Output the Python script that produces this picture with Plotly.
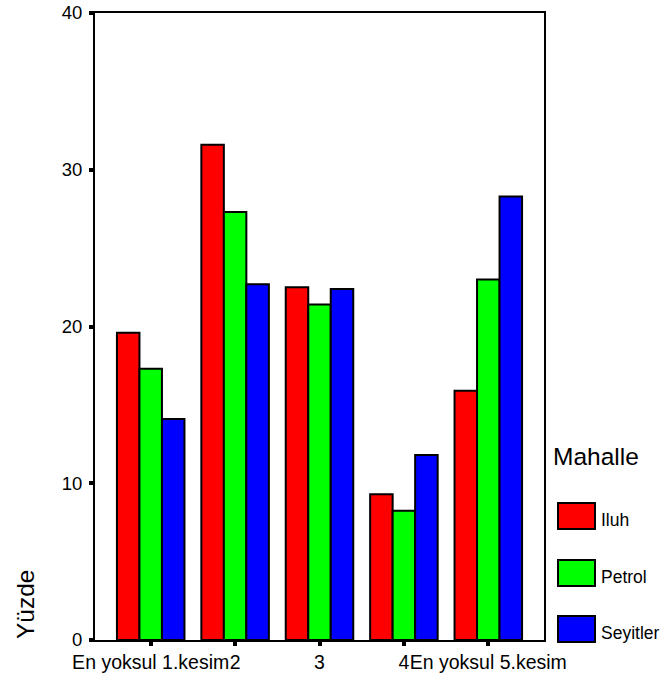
import plotly.graph_objects as go

categories = ["En yoksul 1.kesim", "2", "3", "4", "En yoksul 5.kesim"]
series_names = ["Iluh", "Petrol", "Seyitler"]
iluh = [19.6, 31.6, 22.5, 9.3, 15.9]
petrol = [17.3, 27.3, 21.4, 8.25, 23.0]
seyitler = [14.1, 22.7, 22.4, 11.8, 28.3]
series_values = [iluh, petrol, seyitler]
colors = ["#ff0000", "#00ff00", "#0000ff"]
y_ticks = [0, 10, 20, 30, 40]
legend_title = "Mahalle"
y_title = "Yüzde"

W, H = 668, 677
L, R, T, B = 95, 544, 13, 640
FONT = "Liberation Sans, Arial, sans-serif"

fig = go.Figure()
for name, vals, col in zip(series_names, series_values, colors):
    fig.add_trace(go.Bar(
        x=categories, y=vals, name=name,
        marker=dict(color=col, line=dict(color="black", width=2)),
        showlegend=False,
    ))

def px_x(px):
    return (px - L) / (R - L)

def px_y(py):
    return (B - py) / (B - T)

shapes = []
annotations = []
# custom legend
sw_x0, sw_x1 = 558, 595
sw_tops = [503, 560, 616]
sw_h = 26
for name, col, top in zip(series_names, colors, sw_tops):
    shapes.append(dict(type="rect", xref="paper", yref="paper",
                       x0=px_x(sw_x0), x1=px_x(sw_x1),
                       y0=px_y(top + sw_h), y1=px_y(top),
                       fillcolor=col, line=dict(color="black", width=2)))
    annotations.append(dict(text=name, xref="paper", yref="paper",
                            x=px_x(599), y=px_y(top + sw_h / 2 + 4),
                            xanchor="left", yanchor="middle", showarrow=False,
                            font=dict(family=FONT, size=17.5, color="black")))
annotations.append(dict(text=legend_title, xref="paper", yref="paper",
                        x=px_x(551), y=px_y(457), xanchor="left", yanchor="middle",
                        showarrow=False,
                        font=dict(family=FONT, size=24.5, color="black")))
annotations.append(dict(text=y_title, xref="paper", yref="paper",
                        x=px_x(25), y=px_y(605), xanchor="center", yanchor="middle",
                        textangle=-90, showarrow=False,
                        font=dict(family=FONT, size=24.5, color="black")))

fig.update_layout(
    width=W, height=H, autosize=False,
    margin=dict(l=L, r=W - R, t=T, b=H - B, pad=0, autoexpand=False),
    paper_bgcolor="white", plot_bgcolor="white",
    barmode="group", bargap=0.2, bargroupgap=0,
    font=dict(family=FONT, color="black"),
    shapes=shapes, annotations=annotations,
    showlegend=False,
)
fig.update_xaxes(
    range=[-0.66, 4.66], showline=True, mirror=True, linecolor="black", linewidth=2,
    ticks="outside", ticklen=4, tickwidth=4, tickcolor="black",
    showgrid=False, zeroline=False, automargin=False, tickangle=0,
    tickfont=dict(family=FONT, size=19.5, color="black"),
)
fig.update_yaxes(
    range=[0, 40], tickvals=y_ticks, showline=True, mirror=True, linecolor="black", linewidth=2,
    ticks="outside", ticklen=4, tickwidth=4, tickcolor="black",
    showgrid=False, zeroline=False, automargin=False, ticklabelstandoff=3,
    tickfont=dict(family=FONT, size=18.5, color="black"),
)

fig.write_html("out.html", config={"displayModeBar": False},
               post_script="document.body.style.margin='0';document.body.style.overflow='hidden';")
